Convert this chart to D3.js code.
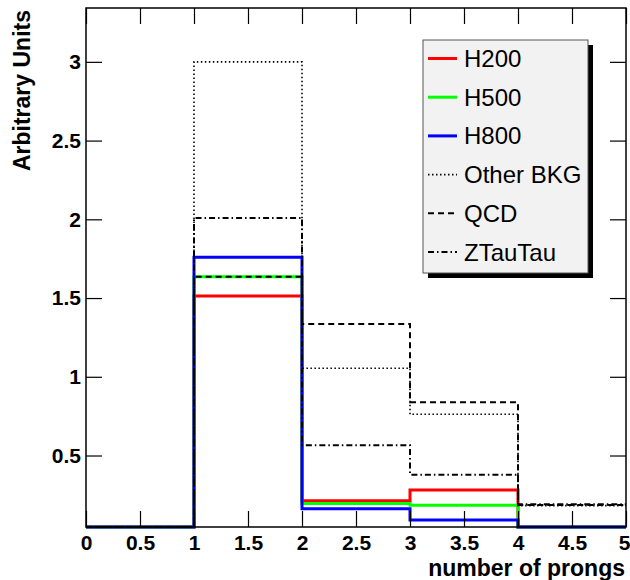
<!DOCTYPE html>
<html>
<head>
<meta charset="utf-8">
<script src="https://cdn.jsdelivr.net/npm/d3@7"></script>
<style>
  body { margin: 0; background: white; }
  svg { font-family: "Liberation Sans", Arial, Helvetica, sans-serif; }
</style>
</head>
<body>
<div id="chart"></div>
<script>
// bin edges of the histogram (number of prongs)
var binEdges = [0, 1, 2, 3, 4, 5];

// content of each bin, one array per sample
var h200 = [0, 1.513, 0.213, 0.281, 0];
var h500 = [0, 1.636, 0.196, 0.184, 0];
var h800 = [0, 1.759, 0.162, 0.090, 0];
var otherBkg = [0, 3.0, 1.054, 0.762, 0.182];
var qcd = [0, 1.636, 1.335, 0.838, 0.186];
var zTauTau = [0, 2.008, 0.565, 0.378, 0.19];

var legendLabels = ['H200', 'H500', 'H800', 'Other BKG', 'QCD', 'ZTauTau'];
var xMajorTicks = [0, 0.5, 1, 1.5, 2, 2.5, 3, 3.5, 4, 4.5, 5];
var yMajorTicks = [0.5, 1, 1.5, 2, 2.5, 3];

var W = 630, H = 580;
var frame = { left: 86, right: 626, top: 8, bottom: 527 };
var yMin = 0.046, yMax = 3.342;

var x = d3.scaleLinear().domain([0, 5]).range([frame.left, frame.right]);
var y = d3.scaleLinear().domain([yMin, yMax]).range([frame.bottom, frame.top]);

var svg = d3.select("#chart").append("svg")
  .attr("width", W)
  .attr("height", H);

var series = [
  { name: 'H200', data: h200, color: '#ff0000', width: 3, dash: null },
  { name: 'H500', data: h500, color: '#00ff00', width: 3, dash: null },
  { name: 'H800', data: h800, color: '#0000ff', width: 3, dash: null },
  { name: 'Other BKG', data: otherBkg, color: '#000', width: 1.6, dash: "1.5,2.5" },
  { name: 'QCD', data: qcd, color: '#000', width: 2, dash: "6,4" },
  { name: 'ZTauTau', data: zTauTau, color: '#000', width: 2, dash: "6,3,1.5,3" }
];

function minorTicks(lo, hi, step) {
  var out = [];
  for (var i = Math.ceil(lo / step); i * step <= hi + 1e-9; i++) {
    out.push(+(i * step).toFixed(3));
  }
  return out;
}

function drawAxes() {
  var xMinor = minorTicks(0, 5, 0.1);
  var yMinor = minorTicks(yMin, yMax, 0.1);

  // bottom
  var gb = svg.append("g").attr("transform", "translate(0," + frame.bottom + ")");
  gb.call(d3.axisBottom(x).tickValues(xMinor).tickSize(-8).tickSizeOuter(0).tickFormat(""));
  gb.call(d3.axisBottom(x).tickValues(xMajorTicks).tickSize(-16).tickSizeOuter(0)
    .tickPadding(8).tickFormat(function (d) { return d; }));

  // top
  var gt = svg.append("g").attr("transform", "translate(0," + frame.top + ")");
  gt.call(d3.axisTop(x).tickValues(xMinor).tickSize(-8).tickSizeOuter(0).tickFormat(""));
  gt.call(d3.axisTop(x).tickValues(xMajorTicks).tickSize(-16).tickSizeOuter(0).tickFormat(""));

  // left
  var gl = svg.append("g").attr("transform", "translate(" + frame.left + ",0)");
  gl.call(d3.axisLeft(y).tickValues(yMinor).tickSize(-8).tickSizeOuter(0).tickFormat(""));
  gl.call(d3.axisLeft(y).tickValues(yMajorTicks).tickSize(-16).tickSizeOuter(0)
    .tickPadding(5).tickFormat(function (d) { return d; }));

  // right
  var gr = svg.append("g").attr("transform", "translate(" + frame.right + ",0)");
  gr.call(d3.axisRight(y).tickValues(yMinor).tickSize(-8).tickSizeOuter(0).tickFormat(""));
  gr.call(d3.axisRight(y).tickValues(yMajorTicks).tickSize(-16).tickSizeOuter(0).tickFormat(""));

  svg.selectAll(".domain").remove();
  svg.selectAll(".tick line").attr("stroke", "#000").attr("stroke-width", 1.2);
  svg.selectAll(".tick text")
    .attr("fill", "#000")
    .style("font-size", "21px")
    .style("font-weight", "bold")
    .style("font-family", "'Liberation Sans', Arial, sans-serif");

  // last x label sits against the window edge, keep it inside
  gb.selectAll(".tick text").filter(function (d) { return d === 5; })
    .attr("text-anchor", "end")
    .attr("x", 4);

  svg.append("rect")
    .attr("x", frame.left)
    .attr("y", frame.top)
    .attr("width", frame.right - frame.left)
    .attr("height", frame.bottom - frame.top)
    .attr("fill", "none")
    .attr("stroke", "#000")
    .attr("stroke-width", 1.5);

  svg.append("text")
    .attr("x", 625)
    .attr("y", 576)
    .attr("text-anchor", "end")
    .style("font-size", "23px")
    .style("font-weight", "bold")
    .text("number of prongs");

  svg.append("text")
    .attr("transform", "translate(30,10) rotate(-90)")
    .attr("text-anchor", "end")
    .style("font-size", "23px")
    .style("font-weight", "bold")
    .text("Arbitrary Units");
}

// step outline like a ROOT histogram, values below the frame sit on it
function histPath(values) {
  var pts = [];
  values.forEach(function (v, i) {
    var yy = y(Math.max(v, yMin));
    pts.push([x(binEdges[i]), yy]);
    pts.push([x(binEdges[i + 1]), yy]);
  });
  return d3.line()(pts);
}

function drawHists() {
  var g = svg.append("g");
  series.forEach(function (s) {
    g.append("path")
      .attr("d", histPath(s.data))
      .attr("fill", "none")
      .attr("stroke", s.color)
      .attr("stroke-width", s.width)
      .attr("stroke-dasharray", s.dash);
  });
}

function drawLegend() {
  var box = { x: 423, y: 40, w: 165, h: 233 };
  var lg = svg.append("g");

  lg.append("rect")
    .attr("x", box.x + 5)
    .attr("y", box.y + 5)
    .attr("width", box.w)
    .attr("height", box.h)
    .attr("fill", "#000");

  lg.append("rect")
    .attr("x", box.x)
    .attr("y", box.y)
    .attr("width", box.w)
    .attr("height", box.h)
    .attr("fill", "#f2f2f2")
    .attr("stroke", "#555")
    .attr("stroke-width", 1);

  var step = 38.7;
  series.forEach(function (s, i) {
    var cy = box.y + 18.5 + i * step;
    lg.append("line")
      .attr("x1", box.x + 5)
      .attr("x2", box.x + 34)
      .attr("y1", cy)
      .attr("y2", cy)
      .attr("stroke", s.color)
      .attr("stroke-width", s.width)
      .attr("stroke-dasharray", s.dash);
    lg.append("text")
      .attr("x", box.x + 41)
      .attr("y", cy + 8.5)
      .style("font-size", "24px")
      .attr("fill", "#000")
      .text(legendLabels[i]);
  });
}

drawHists();
drawAxes();
drawLegend();
</script>
</body>
</html>
